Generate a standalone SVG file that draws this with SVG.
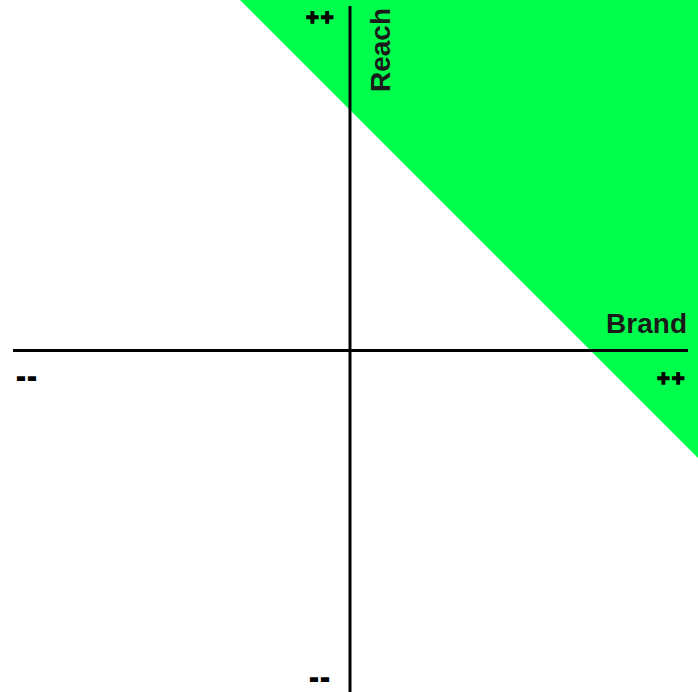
<svg xmlns="http://www.w3.org/2000/svg" width="698" height="692" viewBox="0 0 698 692">
<style>
.lbl{font-family:"Liberation Sans",Arial,sans-serif;font-weight:700;fill:#1a1a1a;}
.sym{font-family:"Liberation Sans",Arial,sans-serif;font-weight:700;fill:#000;stroke:#000;stroke-width:1.4;}
.dash{font-family:"Liberation Sans",Arial,sans-serif;font-weight:700;fill:#000;stroke:#000;stroke-width:2;font-size:24px;letter-spacing:3px;}
.axis{stroke:#000;stroke-width:3;fill:none;}
</style>
<rect width="698" height="692" fill="#fff"/>
<g id="zone"><polygon points="240,0 698,0 698,458" fill="#00ff4c"/></g>
<g id="connectors">
<line class="axis" x1="350" y1="6" x2="350" y2="692"/>
<line class="axis" x1="13" y1="350.5" x2="688" y2="350.5"/>
</g>
<g id="reach"><text class="lbl" font-size="28" transform="translate(390,92) rotate(-90)">Reach</text></g>
<g id="brand"><text class="lbl" font-size="28" x="687" y="333" text-anchor="end">Brand</text></g>
<g id="reach-plus"><text class="sym" font-size="22" x="306" y="25" letter-spacing="2">++</text></g>
<g id="brand-plus"><text class="sym" font-size="22" x="657" y="386" letter-spacing="2">++</text></g>
<g id="brand-minus"><text class="dash" x="17" y="385">--</text></g>
<g id="reach-minus"><text class="dash" x="310" y="686">--</text></g>
</svg>
